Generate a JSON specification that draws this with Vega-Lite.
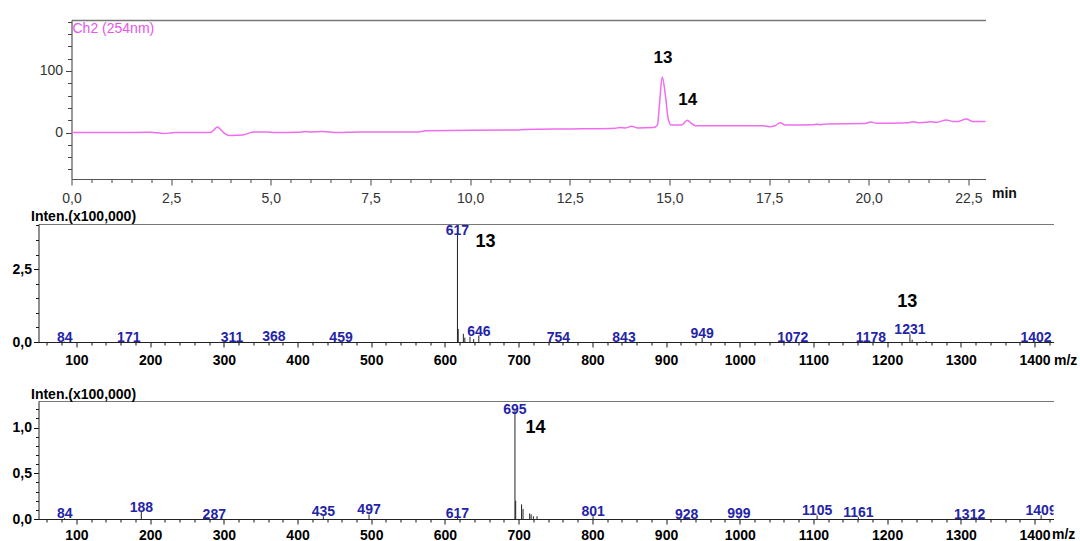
{
  "$schema": "https://vega.github.io/schema/vega-lite/v6.json",
  "background": "white",
  "padding": {"left": 11.5, "top": 14, "right": 0, "bottom": 0},
  "autosize": {"type": "pad"},
  "spacing": 45,
  "bounds": "flush",
  "config": {
    "view": {"stroke": null},
    "font": "Liberation Sans",
    "axis": {"grid": false, "labelFlush": false, "labelOverlap": false, "labelBound": false}
  },
  "datasets": {
    "chrom": [
      {"t": 0, "v": 0}, {"t": 1.0, "v": 0}, {"t": 2.0, "v": 0.3}, {"t": 2.15, "v": -0.5}, {"t": 2.3, "v": -1.5},
      {"t": 2.45, "v": -1}, {"t": 2.6, "v": 0}, {"t": 3.4, "v": 0}, {"t": 3.5, "v": 0.5}, {"t": 3.6, "v": 6},
      {"t": 3.66, "v": 9}, {"t": 3.75, "v": 4}, {"t": 3.85, "v": -2}, {"t": 3.95, "v": -5}, {"t": 4.1, "v": -4.5},
      {"t": 4.3, "v": -4}, {"t": 4.45, "v": -1}, {"t": 4.55, "v": 1}, {"t": 4.9, "v": 1}, {"t": 5.1, "v": 0},
      {"t": 5.7, "v": 0.5}, {"t": 5.85, "v": 1.5}, {"t": 6.0, "v": 1}, {"t": 6.3, "v": 1.5}, {"t": 6.6, "v": 0},
      {"t": 7.2, "v": 1}, {"t": 7.5, "v": 1}, {"t": 8.7, "v": 1}, {"t": 8.9, "v": 3}, {"t": 11.2, "v": 4},
      {"t": 11.35, "v": 5}, {"t": 12.8, "v": 6}, {"t": 13.65, "v": 7}, {"t": 13.75, "v": 8}, {"t": 13.9, "v": 7.5},
      {"t": 14.05, "v": 10}, {"t": 14.2, "v": 7.5}, {"t": 14.6, "v": 8}, {"t": 14.7, "v": 12}, {"t": 14.75, "v": 45},
      {"t": 14.82, "v": 90}, {"t": 14.9, "v": 60}, {"t": 14.97, "v": 22}, {"t": 15.05, "v": 12}, {"t": 15.3, "v": 12},
      {"t": 15.45, "v": 20}, {"t": 15.55, "v": 15}, {"t": 15.65, "v": 11}, {"t": 16.0, "v": 11}, {"t": 17.35, "v": 11},
      {"t": 17.5, "v": 9.5}, {"t": 17.65, "v": 11}, {"t": 17.78, "v": 16}, {"t": 17.9, "v": 12}, {"t": 18.6, "v": 12.5},
      {"t": 18.7, "v": 13.5}, {"t": 18.8, "v": 12.5}, {"t": 18.95, "v": 14}, {"t": 19.9, "v": 14.5}, {"t": 20.05, "v": 17},
      {"t": 20.2, "v": 15}, {"t": 21.0, "v": 16}, {"t": 21.1, "v": 17.5}, {"t": 21.25, "v": 16}, {"t": 21.45, "v": 16.5},
      {"t": 21.55, "v": 17.5}, {"t": 21.7, "v": 16.5}, {"t": 21.95, "v": 20.5}, {"t": 22.1, "v": 18}, {"t": 22.25, "v": 18},
      {"t": 22.45, "v": 22}, {"t": 22.6, "v": 18}, {"t": 22.93, "v": 18}
    ],
    "chromNotes": [
      {"t": 14.84, "v": 121.6, "label": "13"},
      {"t": 15.46, "v": 52, "label": "14"}
    ],
    "ms13": [
      {"mz": 84, "inten": 0.01, "lab": true}, {"mz": 171, "inten": 0.01, "lab": true},
      {"mz": 311, "inten": 0.01, "lab": true}, {"mz": 368, "inten": 0.03, "lab": true},
      {"mz": 459, "inten": 0.005, "lab": true}, {"mz": 617, "inten": 3.8, "lab": true},
      {"mz": 618, "inten": 0.45, "lab": false}, {"mz": 625, "inten": 0.28, "lab": false},
      {"mz": 627, "inten": 0.15, "lab": false}, {"mz": 634, "inten": 0.18, "lab": false},
      {"mz": 639, "inten": 0.1, "lab": false}, {"mz": 646, "inten": 0.22, "lab": true},
      {"mz": 754, "inten": 0.01, "lab": true}, {"mz": 843, "inten": 0.01, "lab": true},
      {"mz": 949, "inten": 0.14, "lab": true}, {"mz": 1072, "inten": 0.01, "lab": true},
      {"mz": 1178, "inten": 0.01, "lab": true}, {"mz": 1231, "inten": 0.27, "lab": true},
      {"mz": 1234, "inten": 0.08, "lab": false}, {"mz": 1253, "inten": 0.03, "lab": false},
      {"mz": 1402, "inten": 0.01, "lab": true}
    ],
    "ms13Notes": [
      {"mz": 655, "inten": 3.42, "label": "13"},
      {"mz": 1227.5, "inten": 1.36, "label": "13"}
    ],
    "ms14": [
      {"mz": 84, "inten": 0.01, "lab": true}, {"mz": 188, "inten": 0.08, "lab": true},
      {"mz": 287, "inten": 0.0, "lab": true}, {"mz": 435, "inten": 0.03, "lab": true},
      {"mz": 497, "inten": 0.05, "lab": true}, {"mz": 617, "inten": 0.01, "lab": true},
      {"mz": 695, "inten": 1.19, "lab": true}, {"mz": 696, "inten": 0.2, "lab": false},
      {"mz": 704, "inten": 0.16, "lab": false}, {"mz": 706, "inten": 0.11, "lab": false},
      {"mz": 715, "inten": 0.06, "lab": false}, {"mz": 717, "inten": 0.05, "lab": false},
      {"mz": 720, "inten": 0.03, "lab": false}, {"mz": 725, "inten": 0.03, "lab": false},
      {"mz": 801, "inten": 0.03, "lab": true}, {"mz": 928, "inten": 0.0, "lab": true},
      {"mz": 999, "inten": 0.01, "lab": true}, {"mz": 1105, "inten": 0.04, "lab": true},
      {"mz": 1161, "inten": 0.02, "lab": true}, {"mz": 1312, "inten": 0.0, "lab": true},
      {"mz": 1409, "inten": 0.04, "lab": true}
    ],
    "ms14Notes": [
      {"mz": 723, "inten": 1.0, "label": "14"}
    ]
  },
  "vconcat": [
    {
      "width": 947,
      "height": 159,
      "resolve": {"axis": {"x": "independent", "y": "independent"}},
      "layer": [
        {
          "data": {"name": "chrom"},
          "mark": {"type": "line", "color": "#f06cf0", "strokeWidth": 1.5, "interpolate": "monotone"},
          "encoding": {
            "x": {
              "field": "t", "type": "quantitative",
              "scale": {"domain": [0, 22.93], "range": [33, 947], "nice": false, "zero": false},
              "axis": {
                "orient": "bottom",
                "values": [0,0.5,1,1.5,2,2.5,3,3.5,4,4.5,5,5.5,6,6.5,7,7.5,8,8.5,9,9.5,10,10.5,11,11.5,12,12.5,13,13.5,14,14.5,15,15.5,16,16.5,17,17.5,18,18.5,19,19.5,20,20.5,21,21.5,22,22.5],
                "labelExpr": "datum.value % 2.5 === 0 ? replace(format(datum.value, '.1f'), '.', ',') : ''",
                "tickSize": {"condition": {"test": "datum.value % 2.5 === 0", "value": 6}, "value": 3.5},
                "tickColor": "#444", "domainColor": "#555", "domainWidth": 1.2,
                "labelFontSize": 14, "labelColor": "#333", "labelPadding": 6,
                "title": "min", "titleFontSize": 14, "titleFontWeight": "bold", "titleColor": "#111",
                "titleAlign": "left", "titleBaseline": "middle", "titleX": 953, "titleY": 14
              }
            },
            "y": {
              "field": "v", "type": "quantitative",
              "scale": {"domain": [-75.5, 182.7], "nice": false, "zero": false},
              "axis": {
                "orient": "left", "offset": -33,
                "values": [-60,-40,-20,0,20,40,60,80,100,120,140,160,180],
                "format": "d",
                "labelExpr": "datum.value % 100 === 0 ? datum.label : ''",
                "tickSize": {"condition": {"test": "datum.value % 100 === 0", "value": 6}, "value": 4},
                "tickColor": "#444", "domainColor": "#555", "domainWidth": 1.2,
                "labelFontSize": 14, "labelColor": "#333", "labelPadding": 3,
                "title": null
              }
            }
          }
        },
        {
          "data": {"name": "chromNotes"},
          "mark": {"type": "text", "fontSize": 17, "fontWeight": "bold", "color": "#000"},
          "encoding": {
            "x": {"field": "t", "type": "quantitative",
              "axis": {"orient": "top", "labels": false, "ticks": false, "domainColor": "#777", "domainWidth": 1.5, "title": null}},
            "y": {"field": "v", "type": "quantitative", "axis": null},
            "text": {"field": "label"}
          }
        },
        {
          "data": {"values": [{"label": "Ch2 (254nm)"}]},
          "mark": {"type": "text", "align": "left", "baseline": "top", "dx": 1, "dy": 2, "fontSize": 14, "color": "#e855e8"},
          "encoding": {
            "x": {"datum": 0, "type": "quantitative", "axis": null},
            "y": {"datum": 182.7, "type": "quantitative", "axis": null},
            "text": {"field": "label"}
          }
        }
      ]
    },
    {
      "width": 1015,
      "height": 132,
      "resolve": {"axis": {"x": "independent", "y": "independent"}},
      "layer": [
        {
          "data": {"name": "ms13"},
          "mark": {"type": "rule", "color": "#222", "strokeWidth": 1},
          "encoding": {
            "x": {
              "field": "mz", "type": "quantitative",
              "scale": {"domain": [48.5, 1425.8], "nice": false, "zero": false},
              "axis": {
                "orient": "bottom", "offset": -14,
                "values": [60,80,100,120,140,160,180,200,220,240,260,280,300,320,340,360,380,400,420,440,460,480,500,520,540,560,580,600,620,640,660,680,700,720,740,760,780,800,820,840,860,880,900,920,940,960,980,1000,1020,1040,1060,1080,1100,1120,1140,1160,1180,1200,1220,1240,1260,1280,1300,1320,1340,1360,1380,1400,1420],
                "format": "d",
                "labelExpr": "datum.value % 100 === 0 ? datum.label : ''",
                "tickSize": {"condition": {"test": "datum.value % 100 === 0", "value": 5}, "value": 3},
                "tickColor": "#111", "domainColor": "#222",
                "labelFontSize": 14, "labelFontWeight": "bold", "labelColor": "#000", "labelPadding": 6,
                "title": "m/z", "titleFontSize": 14, "titleFontWeight": "bold", "titleColor": "#000",
                "titleAlign": "left", "titleBaseline": "middle", "titleX": 1015, "titleY": 18
              }
            },
            "y": {
              "field": "inten", "type": "quantitative",
              "scale": {"domain": [0, 4.05], "range": [118, 0], "nice": false, "zero": false},
              "axis": {
                "orient": "left",
                "values": [0,0.5,1,1.5,2,2.5,3,3.5,4],
                "labelExpr": "datum.value % 2.5 === 0 ? replace(format(datum.value, '.1f'), '.', ',') : ''",
                "tickSize": {"condition": {"test": "datum.value % 2.5 === 0", "value": 5}, "value": 3},
                "tickColor": "#111", "domainColor": "#222",
                "labelFontSize": 14, "labelFontWeight": "bold", "labelColor": "#000", "labelPadding": 2,
                "title": "Inten.(x100,000)", "titleFontSize": 14, "titleFontWeight": "bold", "titleColor": "#000",
                "titleAngle": 0, "titleAlign": "left", "titleBaseline": "alphabetic", "titleX": -8, "titleY": -4
              }
            },
            "y2": {"datum": 0}
          }
        },
        {
          "data": {"name": "ms13"},
          "transform": [{"filter": "datum.lab && datum.inten < 1"}],
          "mark": {"type": "text", "baseline": "alphabetic", "fontSize": 14, "fontWeight": "bold", "color": "#2424a8"},
          "encoding": {
            "x": {"field": "mz", "type": "quantitative",
              "axis": {"orient": "top", "labels": false, "ticks": false, "domainColor": "#777", "domainWidth": 1.2, "title": null}},
            "y": {"field": "inten", "type": "quantitative", "axis": null},
            "text": {"field": "mz", "type": "quantitative", "format": "d"}
          }
        },
        {
          "data": {"name": "ms13"},
          "transform": [{"filter": "datum.inten >= 1"}],
          "mark": {"type": "text", "baseline": "alphabetic", "dy": 4, "fontSize": 14, "fontWeight": "bold", "color": "#2424a8"},
          "encoding": {
            "x": {"field": "mz", "type": "quantitative", "axis": null},
            "y": {"field": "inten", "type": "quantitative", "axis": null},
            "text": {"field": "mz", "type": "quantitative", "format": "d"}
          }
        },
        {
          "data": {"name": "ms13Notes"},
          "mark": {"type": "text", "fontSize": 18, "fontWeight": "bold", "color": "#000"},
          "encoding": {
            "x": {"field": "mz", "type": "quantitative", "axis": null},
            "y": {"field": "inten", "type": "quantitative", "axis": null},
            "text": {"field": "label"}
          }
        }
      ]
    },
    {
      "width": 1015,
      "height": 118,
      "resolve": {"axis": {"x": "independent", "y": "independent"}},
      "layer": [
        {
          "data": {"name": "ms14"},
          "mark": {"type": "rule", "color": "#222", "strokeWidth": 1},
          "encoding": {
            "x": {
              "field": "mz", "type": "quantitative",
              "scale": {"domain": [48.5, 1425.8], "nice": false, "zero": false},
              "axis": {
                "orient": "bottom",
                "values": [60,80,100,120,140,160,180,200,220,240,260,280,300,320,340,360,380,400,420,440,460,480,500,520,540,560,580,600,620,640,660,680,700,720,740,760,780,800,820,840,860,880,900,920,940,960,980,1000,1020,1040,1060,1080,1100,1120,1140,1160,1180,1200,1220,1240,1260,1280,1300,1320,1340,1360,1380,1400,1420],
                "format": "d",
                "labelExpr": "datum.value % 100 === 0 ? datum.label : ''",
                "tickSize": {"condition": {"test": "datum.value % 100 === 0", "value": 5}, "value": 3},
                "tickColor": "#111", "domainColor": "#222",
                "labelFontSize": 14, "labelFontWeight": "bold", "labelColor": "#000", "labelPadding": 4,
                "title": "m/z", "titleFontSize": 14, "titleFontWeight": "bold", "titleColor": "#000",
                "titleAlign": "left", "titleBaseline": "middle", "titleX": 1013, "titleY": 15
              }
            },
            "y": {
              "field": "inten", "type": "quantitative",
              "scale": {"domain": [0, 1.29], "nice": false, "zero": false},
              "axis": {
                "orient": "left",
                "values": [0,0.1,0.2,0.3,0.4,0.5,0.6,0.7,0.8,0.9,1.0,1.1,1.2],
                "labelExpr": "round(datum.value * 10) % 5 === 0 ? replace(format(datum.value, '.1f'), '.', ',') : ''",
                "tickSize": {"condition": {"test": "round(datum.value * 10) % 5 === 0", "value": 5}, "value": 3},
                "tickColor": "#111", "domainColor": "#222",
                "labelFontSize": 14, "labelFontWeight": "bold", "labelColor": "#000", "labelPadding": 2,
                "title": "Inten.(x100,000)", "titleFontSize": 14, "titleFontWeight": "bold", "titleColor": "#000",
                "titleAngle": 0, "titleAlign": "left", "titleBaseline": "alphabetic", "titleX": -8, "titleY": -3
              }
            },
            "y2": {"datum": 0}
          }
        },
        {
          "data": {"name": "ms14"},
          "transform": [{"filter": "datum.lab && datum.inten < 1"}],
          "mark": {"type": "text", "baseline": "alphabetic", "fontSize": 14, "fontWeight": "bold", "color": "#2424a8", "clip": true},
          "encoding": {
            "x": {"field": "mz", "type": "quantitative",
              "axis": {"orient": "top", "labels": false, "ticks": false, "domainColor": "#777", "domainWidth": 1.2, "title": null}},
            "y": {"field": "inten", "type": "quantitative", "axis": null},
            "text": {"field": "mz", "type": "quantitative", "format": "d"}
          }
        },
        {
          "data": {"name": "ms14"},
          "transform": [{"filter": "datum.inten >= 1"}],
          "mark": {"type": "text", "baseline": "alphabetic", "dy": 4, "fontSize": 14, "fontWeight": "bold", "color": "#2424a8"},
          "encoding": {
            "x": {"field": "mz", "type": "quantitative", "axis": null},
            "y": {"field": "inten", "type": "quantitative", "axis": null},
            "text": {"field": "mz", "type": "quantitative", "format": "d"}
          }
        },
        {
          "data": {"name": "ms14Notes"},
          "mark": {"type": "text", "fontSize": 18, "fontWeight": "bold", "color": "#000"},
          "encoding": {
            "x": {"field": "mz", "type": "quantitative", "axis": null},
            "y": {"field": "inten", "type": "quantitative", "axis": null},
            "text": {"field": "label"}
          }
        }
      ]
    }
  ]
}
